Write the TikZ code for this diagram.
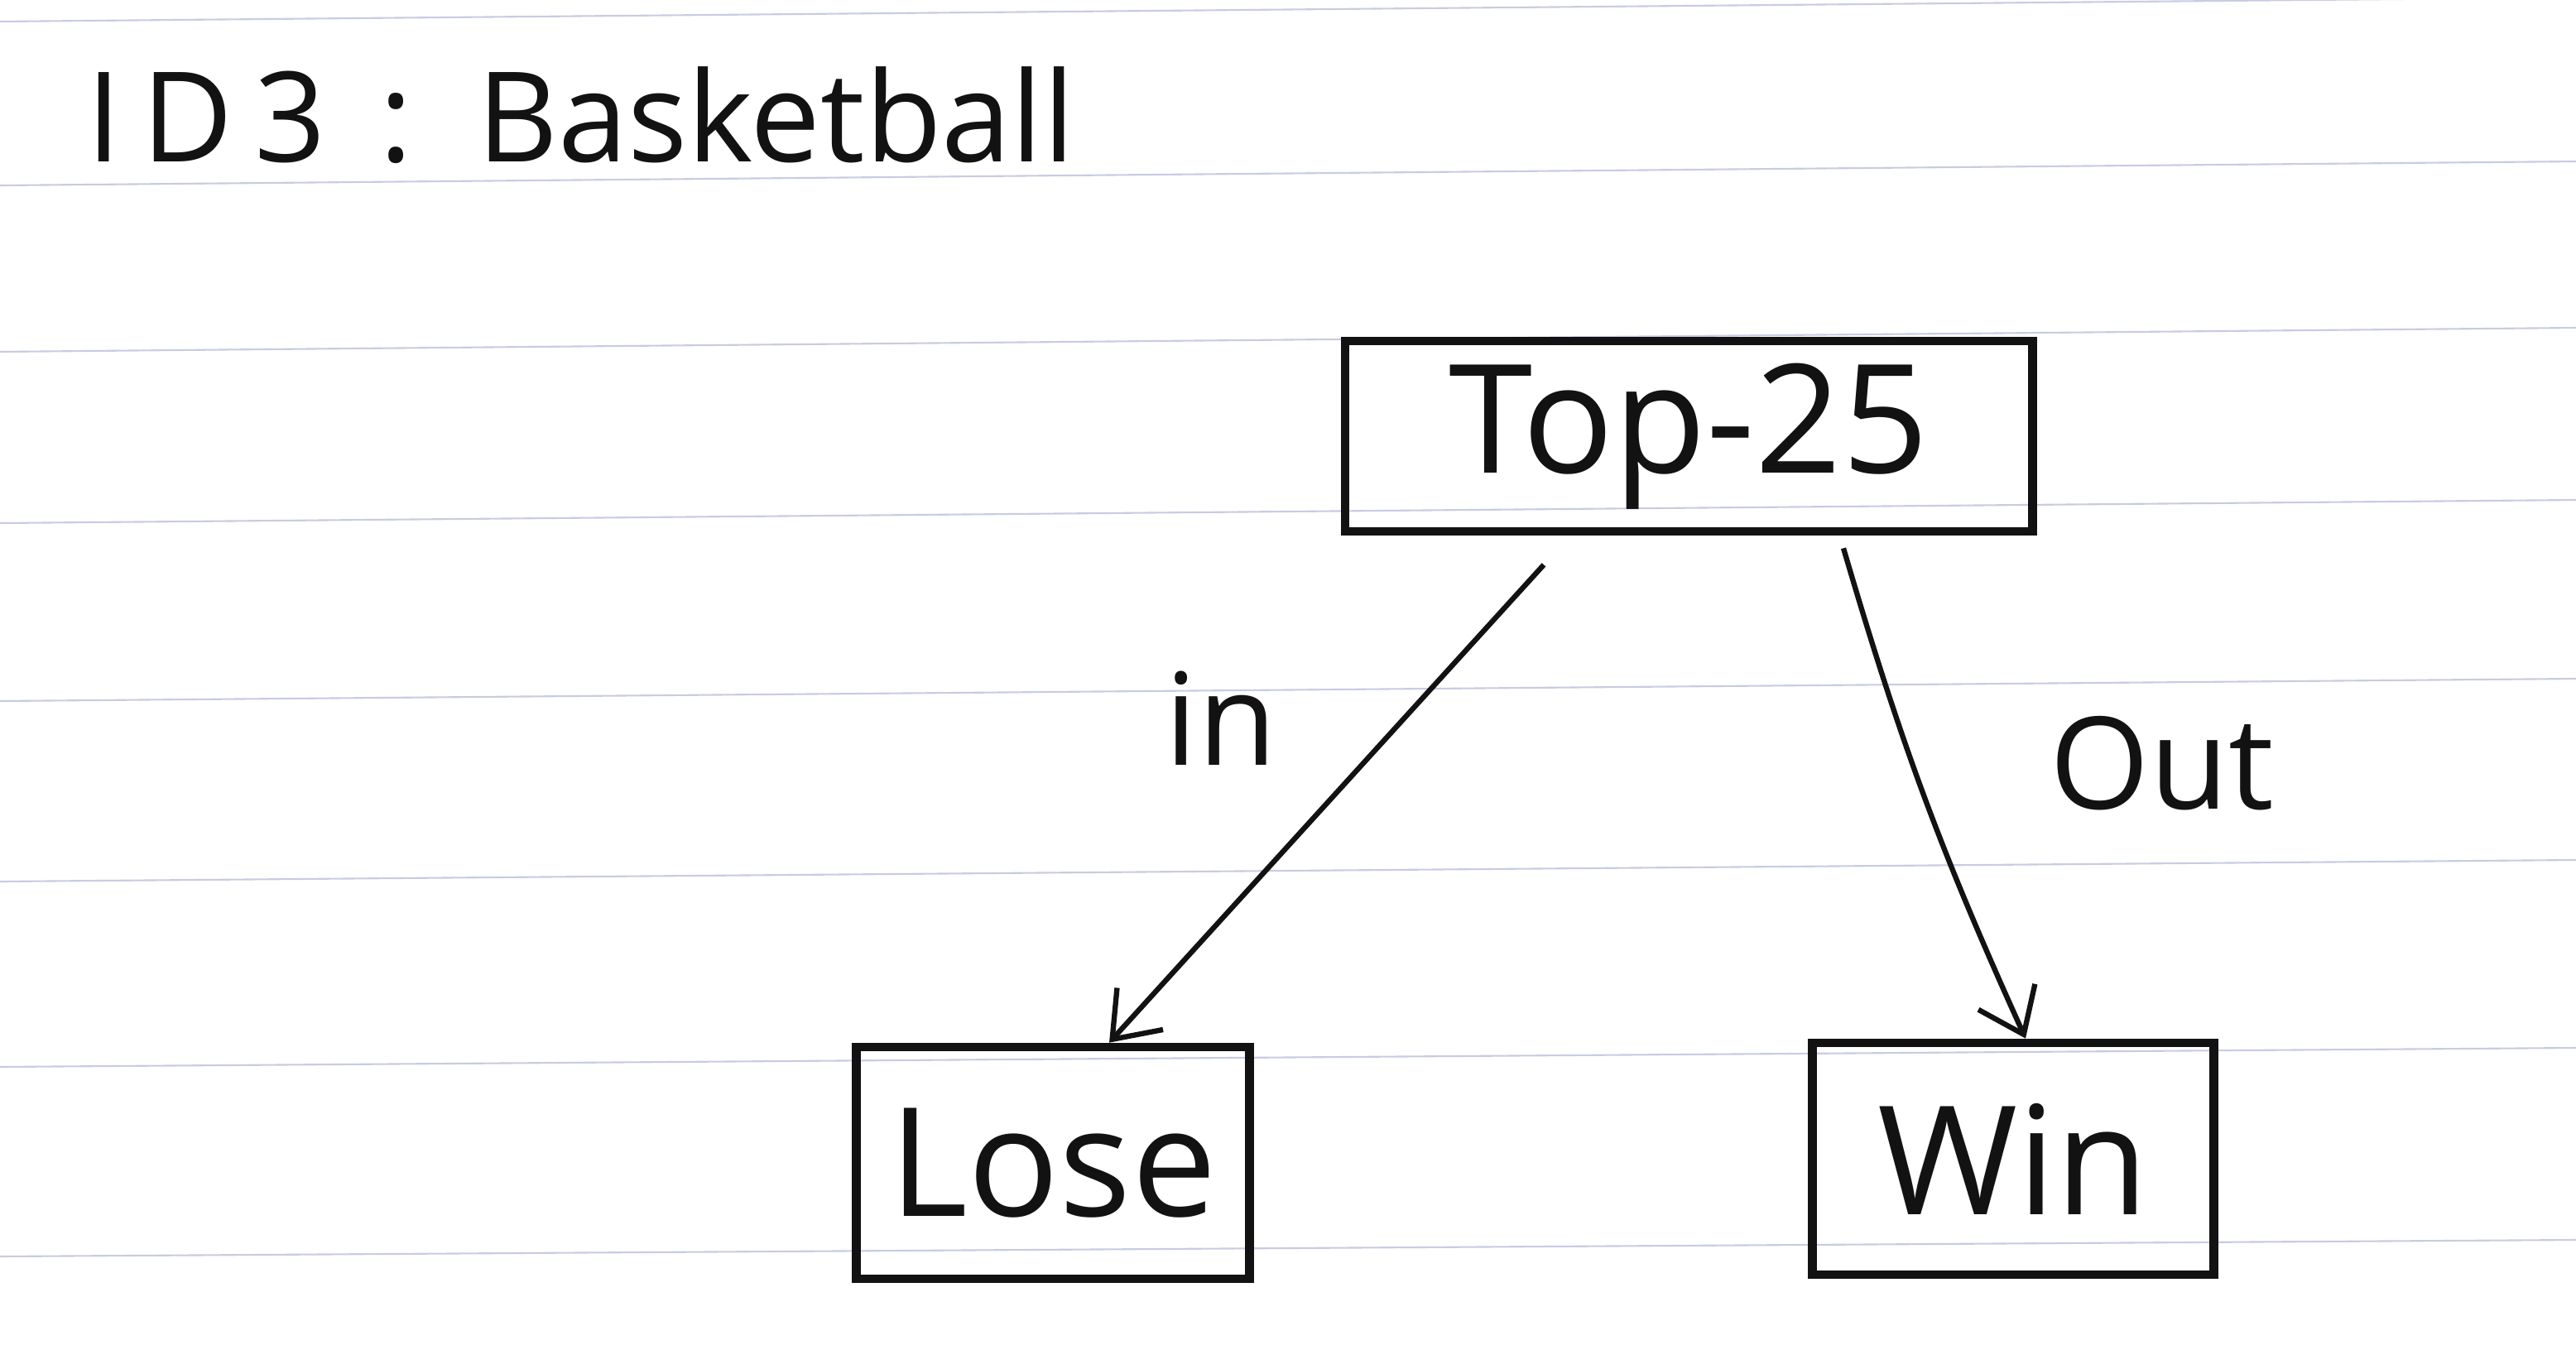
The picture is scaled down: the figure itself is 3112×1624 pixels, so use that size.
\documentclass[tikz,border=0pt]{standalone}
\usepackage{fontspec}
\setmainfont{Open Sans}
\usetikzlibrary{arrows.meta}
\definecolor{ruling}{RGB}{200,204,226}
\definecolor{ink}{RGB}{18,18,18}
\tikzset{
  paperline/.style={ruling, line width=0.6pt},
  leafbox/.style={draw=ink, line width=3pt, rectangle, inner sep=0pt, font=\fontsize{52}{60}\selectfont, text=ink},
  branch/.style={draw=ink, line width=1.8pt, -{Straight Barb[length=0.5cm, width=0.75cm, line width=1.8pt]}},
  edgelabel/.style={font=\fontsize{44}{50}\selectfont, text=ink, inner sep=0pt}
}
\begin{document}
\begin{tikzpicture}[x=0.01cm, y=-0.01cm]
  \useasboundingbox[fill=white] (0,0) rectangle (3112,1624);
  % ruled paper
  \foreach \l/\r in {26/-3, 224/195, 425/396, 632/604, 847/820, 1065/1039, 1289/1266, 1518/1498}
    \draw[paperline] (0,\l) -- (3112,\r);
  % title
  \node[font=\fontsize{43}{50}\selectfont, text=ink, anchor=base west, inner sep=0pt] (title) at (104,195) {I\,D\,3 \,:\, Basketball};
  % nodes
  \node[leafbox, minimum width=8.3cm, minimum height=2.3cm] (top) at (2040,527) {Top-25};
  \node[leafbox, minimum width=4.75cm, minimum height=2.8cm] (lose) at (1272,1405) {Lose};
  \node[leafbox, minimum width=4.85cm, minimum height=2.8cm] (win) at (2432,1400) {Win};
  % edge start points
  \coordinate (inS) at ([shift={(-175,35)}]top.south);
  \coordinate (outS) at ([shift={(187,15)}]top.south);
  \coordinate (inE) at ([xshift=0.68cm]lose.north);
  \coordinate (outE) at ([xshift=0.15cm]win.north);
  \draw[branch] (inS) -- (inE);
  \draw[branch] (outS) to[bend right=4] (outE);
  % labels
  \node[edgelabel] (inlbl) at (1475,868) {in};
  \node[edgelabel] (outlbl) at (2612,922) {Out};
\end{tikzpicture}
\end{document}
